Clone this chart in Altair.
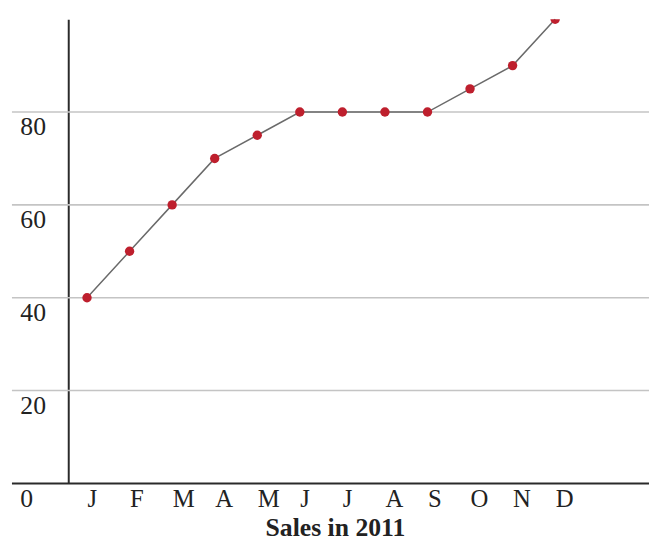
import altair as alt
import pandas as pd

# ---- data ----
months = ["Jan", "Feb", "Mar", "Apr", "May", "Jun", "Jul", "Aug", "Sep", "Oct", "Nov", "Dec"]
month_letters = ["J", "F", "M", "A", "M", "J", "J", "A", "S", "O", "N", "D"]
sales = [40, 50, 60, 70, 75, 80, 80, 80, 80, 85, 90, 100]
y_tick_values = [0, 20, 40, 60, 80]
grid_values = [20, 40, 60, 80]
baseline_value = [0]
x_title = "Sales in 2011"

df = pd.DataFrame({"idx": list(range(1, len(months) + 1)), "month": months, "sales": sales})
grid_df = pd.DataFrame({"sales": grid_values})
base_df = pd.DataFrame({"sales": baseline_value})

W, H = 588, 470
FONT = "Liberation Serif"

x_scale = alt.Scale(domain=[0.559, 14.205], nice=False, zero=False)
y_scale = alt.Scale(domain=[0, 100], nice=False, zero=True)

label_expr = "[" + ",".join(f"'{m}'" for m in month_letters) + "][datum.value - 1]"

x_axis = alt.Axis(
    values=list(range(1, 13)),
    labelExpr=label_expr,
    labelFont=FONT,
    labelFontSize=25,
    labelColor="#222222",
    labelAlign="left",
    labelBaseline="top",
    labelPadding=3,
    labelFlush=False,
    labelOverlap=False,
    ticks=False,
    tickSize=0,
    domain=False,
    grid=False,
    title=x_title,
    titleFont=FONT,
    titleFontSize=26,
    titleFontWeight="bold",
    titleColor="#222222",
    titleX=270,
    titleY=53,
    titleAlign="center",
    titleBaseline="alphabetic",
)

y_axis = alt.Axis(
    values=y_tick_values,
    labelFont=FONT,
    labelFontSize=26,
    labelColor="#222222",
    labelAlign="left",
    labelBaseline="top",
    labelPadding=49,
    labelOffset=2,
    labelFlush=False,
    ticks=False,
    tickSize=0,
    domain=True,
    domainColor="#2a2a2a",
    domainWidth=2,
    grid=False,
    title="",
)

grid = alt.Chart(grid_df).mark_rule(color="#c4c4c4", strokeWidth=1.6).encode(
    y=alt.Y("sales:Q", scale=y_scale, axis=y_axis),
    x=alt.value(-57),
    x2=alt.value(W),
)

baseline = alt.Chart(base_df).mark_rule(color="#2a2a2a", strokeWidth=2).encode(
    y=alt.Y("sales:Q", scale=y_scale, axis=y_axis),
    x=alt.value(-57),
    x2=alt.value(W),
)

line = alt.Chart(df).mark_line(color="#6a6a6a", strokeWidth=1.5).encode(
    x=alt.X("idx:Q", scale=x_scale, axis=x_axis),
    y=alt.Y("sales:Q", scale=y_scale, axis=y_axis),
)

points = alt.Chart(df).mark_circle(color="#be1f2d", opacity=1, size=90, clip=True).encode(
    x=alt.X("idx:Q", scale=x_scale, axis=x_axis),
    y=alt.Y("sales:Q", scale=y_scale, axis=y_axis),
)

chart = (
    alt.layer(grid, baseline, line, points)
    .properties(
        width=W,
        height=H,
        padding={"left": 61, "top": 8, "right": 0, "bottom": 56},
        autosize=alt.AutoSizeParams(type="none"),
        background="white",
    )
    .configure_view(strokeWidth=0)
)

chart.save("out.html", embed_options={"renderer": "svg", "actions": False})
